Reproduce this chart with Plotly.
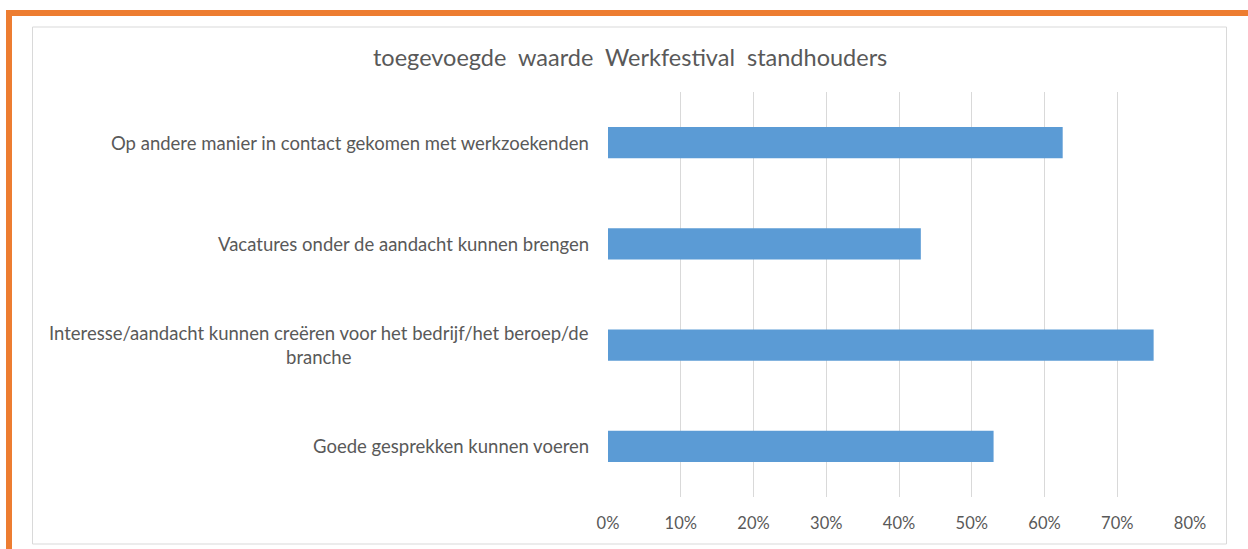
import plotly.graph_objects as go

title = "toegevoegde  waarde  Werkfestival  standhouders"
categories = [
    "Op andere manier in contact gekomen met werkzoekenden",
    "Vacatures onder de aandacht kunnen brengen",
    "Interesse/aandacht kunnen creëren voor het bedrijf/het beroep/de<br>branche",
    "Goede gesprekken kunnen voeren",
]
values = [0.625, 0.43, 0.75, 0.53]
tick_vals = [0, 0.1, 0.2, 0.3, 0.4, 0.5, 0.6, 0.7, 0.8]
tick_text = ["0%", "10%", "20%", "30%", "40%", "50%", "60%", "70%", "80%"]

W, H = 1248, 549
L, R, T, B = 608, 1190, 92, 497
FONT = "Lato"
GREY = "#595959"
ORANGE = "#ED7D31"

def px(x, y):
    return (x - L) / (R - L), (B - y) / (B - T)

fig = go.Figure()
fig.add_trace(go.Bar(
    x=values, y=list(range(len(categories))), orientation="h",
    marker=dict(color="#5B9BD5", line=dict(width=0)),
    width=0.31, hoverinfo="x",
))

shapes = []
def rect(x0, y0, x1, y1, fill=None, line=None, lw=0):
    a0, b0 = px(x0, y0)
    a1, b1 = px(x1, y1)
    shapes.append(dict(type="rect", xref="paper", yref="paper", x0=a0, y0=b0, x1=a1, y1=b1,
                       fillcolor=fill or "rgba(0,0,0,0)",
                       line=dict(color=line or "rgba(0,0,0,0)", width=lw), layer="below"))

# orange frame (top and left)
rect(6, 10, 1248, 16, fill=ORANGE)
rect(6, 10, 12, 549, fill=ORANGE)
# chart area border
rect(32.5, 27, 1226.5, 544, line="#D9D9D9", lw=1)

annotations = []
for i, c in enumerate(categories):
    annotations.append(dict(
        x=0, xref="paper", y=i, yref="y", text=c, showarrow=False,
        xanchor="right", yanchor="middle", xshift=-17, align="center",
        font=dict(family=FONT, size=18.5, color=GREY),
    ))
tx, ty = px(630, 57)
annotations.append(dict(x=tx, y=ty, xref="paper", yref="paper", text=title, showarrow=False,
                        xanchor="center", yanchor="middle",
                        font=dict(family=FONT, size=23.5, color=GREY)))

fig.update_layout(
    width=W, height=H,
    margin=dict(l=L, r=W - R, t=T, b=H - B),
    paper_bgcolor="white", plot_bgcolor="white",
    showlegend=False,
    shapes=shapes, annotations=annotations,
    xaxis=dict(range=[0, 0.8], tickvals=tick_vals, ticktext=tick_text,
               showgrid=True, gridcolor="#D9D9D9", gridwidth=1, zeroline=False,
               showline=False, ticks="", ticklabelstandoff=14,
               tickfont=dict(family=FONT, size=16.5, color=GREY)),
    yaxis=dict(range=[3.5, -0.5], showticklabels=False, showgrid=False,
               zeroline=False, showline=False, ticks=""),
)

fig.write_html("out.html", config={"displayModeBar": False},
               post_script="document.body.style.margin='0';document.body.style.overflow='hidden';")
